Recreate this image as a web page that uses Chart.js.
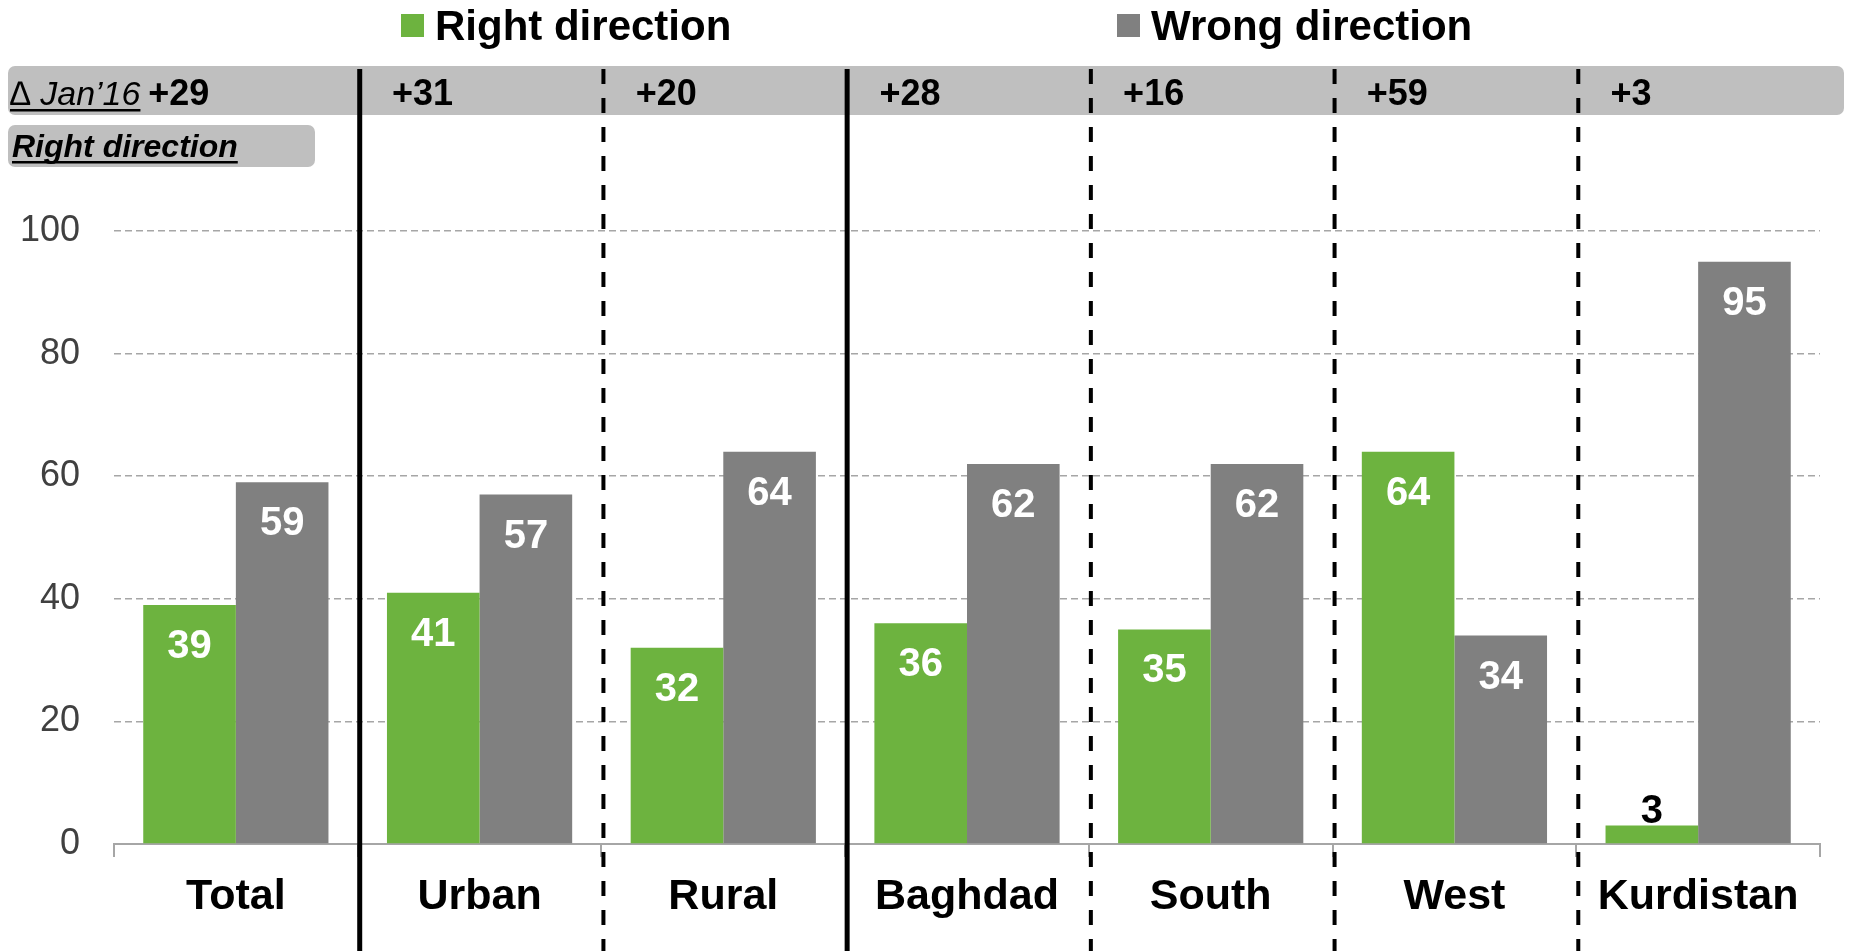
<!DOCTYPE html>
<html>
<head>
<meta charset="utf-8">
<title>Right / Wrong direction</title>
<script src="https://cdn.jsdelivr.net/npm/chart.js@4.4.1/dist/chart.umd.min.js"></script>
<style>
  html, body { margin: 0; padding: 0; background: #fff; }
  #wrap { width: 1853px; height: 951px; }
</style>
</head>
<body>
<div id="wrap"><canvas id="chart" width="1853" height="951"></canvas></div>
<script>
/* ==========================================
   DATA
   ========================================== */
const categories     = ['Total', 'Urban', 'Rural', 'Baghdad', 'South', 'West', 'Kurdistan'];
const rightDirection = [39, 41, 32, 36, 35, 64, 3];
const wrongDirection = [59, 57, 64, 62, 62, 34, 95];
const deltaJan16     = ['+29', '+31', '+20', '+28', '+16', '+59', '+3'];
const yTicks         = [0, 20, 40, 60, 80, 100];

/* ==========================================
   STYLE
   ========================================== */
const FONT  = "'Liberation Sans', Arial, Helvetica, sans-serif";
const GREEN = '#6db33f';
const GRAY  = '#808080';
const BAND  = '#bfbfbf';
const GRID  = '#a6a6a6';

// boundaries after these category indexes are drawn solid, the rest dashed
const SOLID_BREAKS = [0, 2];

/* ==========================================
   OVERLAY PLUGIN (band, separators, labels, legend)
   ========================================== */
function underlinedText(ctx, txt, x, y, font) {
  ctx.font = font;
  ctx.fillText(txt, x, y);
  const w = ctx.measureText(txt).width;
  ctx.fillRect(x, y + 4, w, 2.5);
  return w;
}

const overlay = {
  id: 'overlay',
  beforeDraw(chart) {
    const ctx = chart.ctx;
    ctx.save();
    ctx.fillStyle = BAND;
    ctx.beginPath();
    ctx.roundRect(8, 66, 1836, 49, 7);
    ctx.fill();
    ctx.beginPath();
    ctx.roundRect(8, 125, 307, 42, 7);
    ctx.fill();
    ctx.restore();
  },
  afterDatasetsDraw(chart) {
    const ctx = chart.ctx;
    ctx.save();
    ctx.font = `bold 40px ${FONT}`;
    ctx.textAlign = 'center';
    ctx.textBaseline = 'alphabetic';
    chart.data.datasets.forEach((ds, di) => {
      chart.getDatasetMeta(di).data.forEach((bar, i) => {
        const v = ds.data[i];
        if (bar.base - bar.y > 60) {
          ctx.fillStyle = '#fff';
          ctx.fillText(String(v), bar.x, bar.y + 53);
        } else {
          ctx.fillStyle = '#000';
          ctx.fillText(String(v), bar.x, bar.y - 3);
        }
      });
    });
    ctx.restore();
  },
  afterDraw(chart) {
    const ctx = chart.ctx;
    const xs  = chart.scales.x;
    ctx.save();

    // separators between categories
    for (let i = 0; i < categories.length - 1; i++) {
      const bx = (xs.getPixelForValue(i) + xs.getPixelForValue(i + 1)) / 2 + 2;
      const solid = SOLID_BREAKS.includes(i);
      ctx.strokeStyle = '#000';
      ctx.lineWidth = solid ? 5 : 4;
      ctx.setLineDash(solid ? [] : [15, 14]);
      ctx.beginPath();
      ctx.moveTo(bx, 69);
      ctx.lineTo(bx, 951);
      ctx.stroke();
    }
    ctx.setLineDash([]);

    // band texts
    ctx.fillStyle = '#000';
    ctx.textAlign = 'left';
    ctx.textBaseline = 'alphabetic';
    underlinedText(ctx, '\u2206 Jan\u201916', 10, 105, `italic 34px ${FONT}`);
    underlinedText(ctx, 'Right direction', 12, 157, `italic bold 32px ${FONT}`);

    ctx.font = `bold 36px ${FONT}`;
    const greens = chart.getDatasetMeta(0).data;
    deltaJan16.forEach((d, i) => {
      const b = greens[i];
      ctx.fillText(d, b.x - b.width / 2 + 5, 105);
    });

    // legend
    const legendX = [401, 1117];
    ctx.font = `bold 42px ${FONT}`;
    chart.data.datasets.forEach((ds, di) => {
      ctx.fillStyle = ds.backgroundColor;
      ctx.fillRect(legendX[di], 14, 23, 23);
      ctx.fillStyle = '#000';
      ctx.fillText(ds.label, legendX[di] + 34, 40);
    });

    ctx.restore();
  }
};

/* ==========================================
   CHART
   ========================================== */
new Chart(document.getElementById('chart').getContext('2d'), {
  type: 'bar',
  data: {
    labels: categories,
    datasets: [
      { label: 'Right direction', data: rightDirection, backgroundColor: GREEN },
      { label: 'Wrong direction', data: wrongDirection, backgroundColor: GRAY }
    ]
  },
  options: {
    responsive: false,
    animation: false,
    devicePixelRatio: 1,
    layout: { padding: { top: 231, right: 33, bottom: 0, left: 0 } },
    categoryPercentage: 0.76,
    barPercentage: 1.0,
    plugins: {
      legend:  { display: false },
      tooltip: { enabled: false }
    },
    scales: {
      x: {
        grid:   { drawOnChartArea: false, drawTicks: true, tickLength: 13, color: GRID, lineWidth: 2 },
        border: { display: true, color: GRID, width: 2 },
        ticks:  { color: '#000', padding: 14, font: { family: FONT, size: 43, weight: 'bold' } },
        afterFit(scale) { scale.height = 107; }
      },
      y: {
        min: 0,
        max: 100,
        afterBuildTicks(scale) { scale.ticks = yTicks.map(v => ({ value: v })); },
        grid:   { drawTicks: false, color: GRID, lineWidth: 1.5 },
        border: { display: false, dash: [7, 4] },
        ticks:  { color: '#404040', padding: 34, font: { family: FONT, size: 36 } },
        afterFit(scale) { scale.width = 114; }
      }
    }
  },
  plugins: [overlay]
});
</script>
</body>
</html>
